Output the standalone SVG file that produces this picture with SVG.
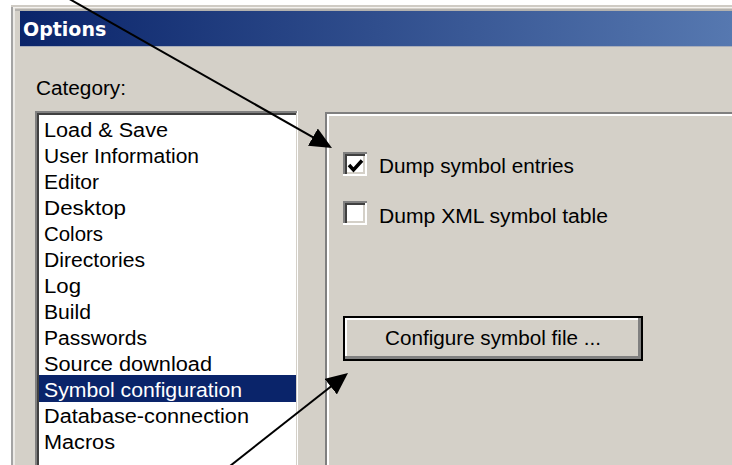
<svg xmlns="http://www.w3.org/2000/svg" width="732" height="465" viewBox="0 0 732 465">
  <defs>
    <linearGradient id="titleGrad" x1="20" y1="0" x2="732" y2="0" gradientUnits="userSpaceOnUse">
      <stop offset="0" stop-color="#0A246A"/>
      <stop offset="1" stop-color="#5678B0"/>
    </linearGradient>
    <marker id="arrowHead" markerUnits="userSpaceOnUse" markerWidth="22" markerHeight="20" viewBox="0 0 22 20" refX="10" refY="10" orient="auto">
      <path d="M0,0 L22,10 L0,20 z" fill="#000"/>
    </marker>
    <style>
      .ui { font-family: "Liberation Sans", Arial, sans-serif; font-size: 20px; fill: #000; }
      .sel { fill: #FFFFFF; }
      .title { font-family: "DejaVu Sans", Verdana, sans-serif; font-weight: bold; font-size: 19px; fill: #FFFFFF; }
      .face { fill: #D4D0C8; }
      .conn { stroke: #000; stroke-width: 2; fill: none; marker-end: url(#arrowHead); }
    </style>
  </defs>

  <!-- page background -->
  <rect x="0" y="0" width="732" height="465" fill="#FFFFFF"/>

  <!-- dialog frame -->
  <g id="window">
    <rect x="11" y="5" width="721" height="460" class="face"/>
    <rect x="11" y="5" width="2" height="460" fill="#A4A4A4"/>
    <rect x="11" y="5" width="721" height="2" fill="#CFCBC4"/>
    <rect x="13" y="7" width="2" height="458" fill="#ECEAE6"/>
    <rect x="13" y="7" width="719" height="1" fill="#F4F2EF"/>
    <rect x="15" y="9" width="717" height="2" fill="#B4B2AE"/>
  </g>

  <!-- title bar -->
  <g id="titlebar">
    <rect x="20" y="11" width="712" height="35" fill="url(#titleGrad)"/>
    <rect x="20" y="46" width="712" height="1" fill="#A9AEBB"/>
    <text class="title" x="23" y="36">Options</text>
  </g>

  <g id="category-label">
    <text class="ui" x="36" y="95" textLength="90" lengthAdjust="spacingAndGlyphs">Category:</text>
  </g>

  <!-- category list -->
  <g id="category-list">
    <rect x="35" y="111" width="263" height="360" fill="#FFFFFF"/>
    <rect x="35" y="111" width="2" height="360" fill="#808080"/>
    <rect x="35" y="111" width="263" height="2" fill="#808080"/>
    <rect x="37" y="113" width="2" height="358" fill="#404040"/>
    <rect x="37" y="113" width="259" height="2" fill="#404040"/>
    <rect x="296" y="113" width="1" height="358" fill="#D4D0C8"/>
    <rect x="297" y="111" width="1" height="360" fill="#FFFFFF"/>
    <rect x="39" y="375" width="257" height="27" fill="#0A246A"/>
    <text class="ui" x="44" y="137" textLength="124" lengthAdjust="spacingAndGlyphs">Load &amp; Save</text>
    <text class="ui" x="44" y="163" textLength="155" lengthAdjust="spacingAndGlyphs">User Information</text>
    <text class="ui" x="44" y="189" textLength="55" lengthAdjust="spacingAndGlyphs">Editor</text>
    <text class="ui" x="44" y="215" textLength="82" lengthAdjust="spacingAndGlyphs">Desktop</text>
    <text class="ui" x="44" y="241" textLength="59" lengthAdjust="spacingAndGlyphs">Colors</text>
    <text class="ui" x="44" y="267" textLength="101" lengthAdjust="spacingAndGlyphs">Directories</text>
    <text class="ui" x="44" y="293" textLength="37" lengthAdjust="spacingAndGlyphs">Log</text>
    <text class="ui" x="44" y="319" textLength="47" lengthAdjust="spacingAndGlyphs">Build</text>
    <text class="ui" x="44" y="345" textLength="103" lengthAdjust="spacingAndGlyphs">Passwords</text>
    <text class="ui" x="44" y="371" textLength="168" lengthAdjust="spacingAndGlyphs">Source download</text>
    <text class="ui sel" x="44" y="397" textLength="198" lengthAdjust="spacingAndGlyphs">Symbol configuration</text>
    <text class="ui" x="44" y="423" textLength="205" lengthAdjust="spacingAndGlyphs">Database-connection</text>
    <text class="ui" x="44" y="449" textLength="71" lengthAdjust="spacingAndGlyphs">Macros</text>
  </g>

  <!-- settings page -->
  <g id="settings-panel">
    <rect x="325" y="112" width="407" height="353" class="face"/>
    <rect x="325" y="112" width="2" height="353" fill="#808080"/>
    <rect x="325" y="112" width="407" height="2" fill="#808080"/>
    <rect x="327" y="114" width="2" height="351" fill="#FFFFFF"/>
    <rect x="327" y="114" width="405" height="2" fill="#FFFFFF"/>
  </g>

  <g id="check-dump-entries">
    <rect x="343" y="152" width="24" height="24" fill="#FFFFFF"/>
    <path d="M343,152 h24 v2 h-22 v22 h-2 z" fill="#808080"/>
    <path d="M345,154 h20 v2 h-18 v18 h-2 z" fill="#404040"/>
    <path d="M365,154 h2 v22 h-24 v-2 h22 z" fill="#FFFFFF"/>
    <path d="M365,156 v18 h-18 v-2 h16 v-16 z" fill="#D4D0C8"/>
    <polyline points="349,165 353.5,170 362,160.5" fill="none" stroke="#000" stroke-width="3.5"/>
    <text class="ui" x="379" y="173" textLength="195" lengthAdjust="spacingAndGlyphs">Dump symbol entries</text>
  </g>

  <g id="check-dump-xml">
    <rect x="343" y="201" width="24" height="24" fill="#FFFFFF"/>
    <path d="M343,201 h24 v2 h-22 v22 h-2 z" fill="#808080"/>
    <path d="M345,203 h20 v2 h-18 v18 h-2 z" fill="#404040"/>
    <path d="M365,203 h2 v22 h-24 v-2 h22 z" fill="#FFFFFF"/>
    <path d="M365,205 v18 h-18 v-2 h16 v-16 z" fill="#D4D0C8"/>
    <text class="ui" x="379" y="223" textLength="229" lengthAdjust="spacingAndGlyphs">Dump XML symbol table</text>
  </g>

  <g id="configure-button">
    <rect x="343" y="316" width="300" height="45" fill="#000"/>
    <rect x="345" y="318" width="296" height="41" fill="#808080"/>
    <rect x="345" y="318" width="293" height="38" fill="#FFFFFF"/>
    <rect x="347" y="320" width="291" height="36" class="face"/>
    <text class="ui" x="385" y="345" textLength="216" lengthAdjust="spacingAndGlyphs">Configure symbol file ...</text>
  </g>

  <!-- callout arrows -->
  <g id="connectors">
    <line class="conn" x1="69.4" y1="-1" x2="321.55" y2="142.1"/>
    <line class="conn" x1="230" y1="466" x2="338.57" y2="380.42"/>
  </g>
</svg>
